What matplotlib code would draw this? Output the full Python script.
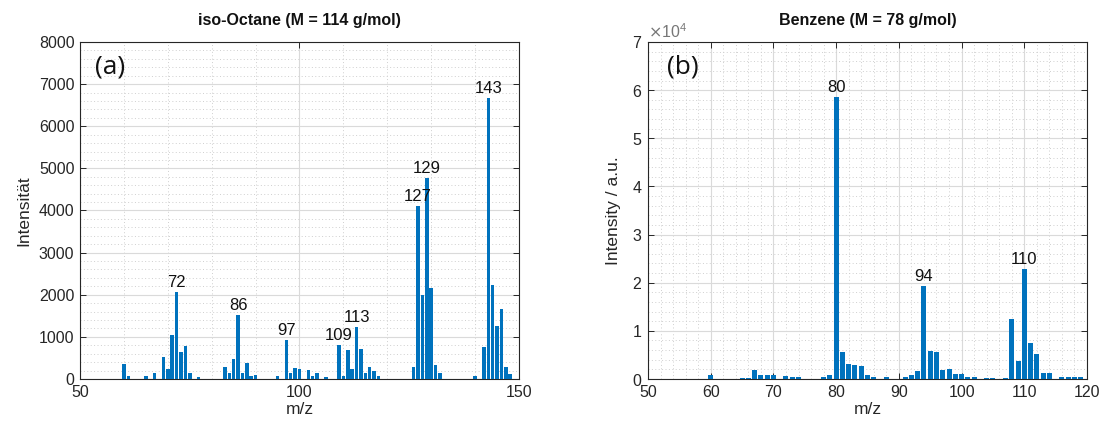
import matplotlib
matplotlib.use("Agg")
import matplotlib.pyplot as plt
from matplotlib.ticker import MultipleLocator, ScalarFormatter

plt.rcParams['font.family'] = ['Liberation Sans', 'DejaVu Sans']

# ---- data: iso-Octane ----
octane_mz = [60, 61, 65, 67, 69, 70, 71, 72, 73, 74, 75, 77, 83, 84, 85, 86, 87, 88, 89, 90,
             95, 97, 98, 99, 100, 102, 103, 104, 106, 109, 110, 111, 112, 113, 114, 115, 116,
             117, 118, 126, 127, 128, 129, 130, 131, 132, 140, 142, 143, 144, 145, 146, 147, 148]
octane_int = [350, 70, 70, 135, 530, 230, 1055, 2060, 650, 775, 135, 50, 285, 135, 465, 1515,
              135, 380, 80, 100, 60, 930, 140, 260, 230, 220, 80, 140, 50, 810, 75, 690, 230,
              1240, 715, 135, 285, 190, 80, 290, 4110, 2000, 4770, 2150, 330, 150, 70, 760,
              6670, 2240, 1260, 1650, 280, 130]
octane_labels = [72, 86, 97, 109, 113, 127, 129, 143]

# ---- data: Benzene ----
benz_mz = [60, 65, 66, 67, 68, 69, 70, 72, 73, 74, 78, 79, 80, 81, 82, 83, 84, 85, 86, 88,
           91, 92, 93, 94, 95, 96, 97, 98, 99, 100, 101, 102, 104, 105, 107, 108, 109, 110,
           111, 112, 113, 114, 116, 117, 118, 119]
benz_int = [890, 300, 300, 1900, 890, 890, 890, 550, 400, 400, 400, 890, 58500, 5600, 3200,
            3000, 2700, 800, 500, 350, 350, 800, 1600, 19300, 5900, 5650, 1950, 2150, 1100,
            1100, 350, 490, 280, 280, 280, 12400, 3700, 22800, 7450, 5100, 1300, 1300, 490,
            350, 490, 350]
benz_labels = [80, 94, 110]

BAR = '#0072BD'
TXT = '#262626'
TICK_FS = 11.5
LAB_FS = 12.5

fig = plt.figure(figsize=(11.01, 4.30), dpi=100)
ax1 = fig.add_axes([80/1101, 1-379/430, 439/1101, 337/430])
ax2 = fig.add_axes([648/1101, 1-379/430, 439/1101, 337/430])


def style(ax, xmaj, xmin, ymaj, ymin):
    ax.xaxis.set_major_locator(MultipleLocator(xmaj))
    ax.xaxis.set_minor_locator(MultipleLocator(xmin))
    ax.yaxis.set_major_locator(MultipleLocator(ymaj))
    ax.yaxis.set_minor_locator(MultipleLocator(ymin))
    ax.grid(True, which='major', color='#dadada', linewidth=0.8, linestyle='-')
    ax.grid(True, which='minor', color='#cfcfcf', linewidth=0.7, linestyle=(0, (1, 2.5)))
    ax.set_axisbelow(True)
    ax.tick_params(which='both', direction='in', top=True, right=True,
                   colors=TXT, labelsize=TICK_FS, labelcolor=TXT)
    ax.tick_params(which='major', length=4, width=0.7, pad=4)
    ax.tick_params(which='minor', length=0)
    for s in ax.spines.values():
        s.set_color(TXT)
        s.set_linewidth(0.8)


# ---- left panel ----
ax1.bar(octane_mz, octane_int, width=0.8, color=BAR, zorder=3)
ax1.set_xlim(50, 150)
ax1.set_ylim(0, 8000)
style(ax1, 50, 10, 1000, 200)
for m in octane_labels:
    v = octane_int[octane_mz.index(m)]
    ax1.text(m, v + 50, str(m), ha='center', va='bottom', fontsize=12, color='#111111', zorder=4)
ax1.set_title('iso-Octane (M = 114 g/mol)', fontsize=11.5, fontweight='bold', pad=12, color='#111111')
ax1.set_xlabel('m/z', fontsize=LAB_FS, color=TXT, labelpad=2)
ax1.set_ylabel('Intensität', fontsize=LAB_FS, color=TXT, labelpad=5)
ax1.text(0.034, 0.925, '(a)', transform=ax1.transAxes, fontsize=19, family='Open Sans',
         ha='left', va='center', color='#111111')

# ---- right panel ----
ax2.bar(benz_mz, benz_int, width=0.8, color=BAR, zorder=3)
ax2.set_xlim(50, 120)
ax2.set_ylim(0, 70000)
style(ax2, 10, 2, 10000, 2000)
fmt = ScalarFormatter(useMathText=True)
fmt.set_powerlimits((0, 0))
ax2.yaxis.set_major_formatter(fmt)
ax2.yaxis.get_offset_text().set_fontsize(11.5)
ax2.yaxis.get_offset_text().set_color('#777777')
for m in benz_labels:
    v = benz_int[benz_mz.index(m)]
    ax2.text(m, v + 400, str(m), ha='center', va='bottom', fontsize=12, color='#111111', zorder=4)
ax2.set_title('Benzene (M = 78 g/mol)', fontsize=11.5, fontweight='bold', pad=12, color='#111111')
ax2.set_xlabel('m/z', fontsize=LAB_FS, color=TXT, labelpad=2)
ax2.set_ylabel('Intensity / a.u.', fontsize=LAB_FS, color=TXT, labelpad=8)
ax2.text(0.043, 0.925, '(b)', transform=ax2.transAxes, fontsize=19, family='Open Sans',
         ha='left', va='center', color='#111111')

fig.savefig('out.png', dpi=100)
